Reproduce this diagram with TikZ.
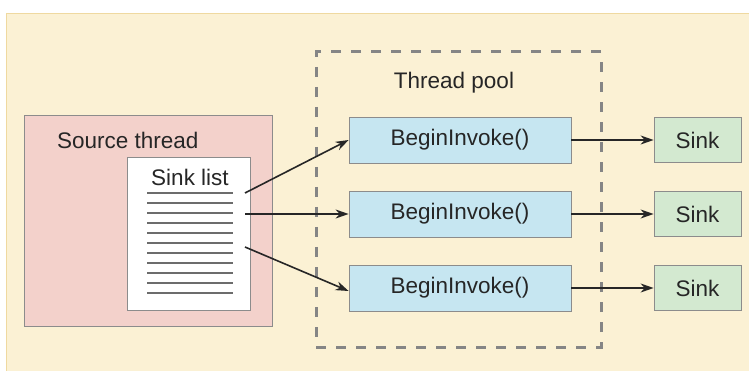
\documentclass[tikz,border=0pt]{standalone}
\usepackage{fontspec}
\setmainfont{Liberation Sans}
\usetikzlibrary{arrows.meta}
\definecolor{cream}{HTML}{FBF1D4}
\definecolor{creamedge}{HTML}{EFD9A0}
\definecolor{pinkbox}{HTML}{F3D1CB}
\definecolor{bluebox}{HTML}{C6E6F1}
\definecolor{greenbox}{HTML}{D3E9D0}
\definecolor{edgegray}{HTML}{8C8C8C}
\definecolor{dashgray}{HTML}{858585}
\definecolor{ink}{HTML}{262626}
\tikzset{
  lbl/.style={font=\fontsize{22.5}{25}\selectfont, text=ink, inner sep=0pt},
  boxb/.style={draw=edgegray, line width=0.8pt, rectangle, inner sep=0pt},
  invoke/.style={boxb, fill=bluebox, minimum width=222pt, minimum height=46pt, lbl},
  sinkbox/.style={boxb, fill=greenbox, minimum width=87pt, minimum height=45pt, lbl},
  arr/.style={draw=ink, line width=1.6pt, -{Stealth[length=13pt,width=9pt]}},
  listline/.style={draw=gray!85!black, line width=1.2pt}
}
\begin{document}
\begin{tikzpicture}[x=1pt,y=-1pt]
\useasboundingbox (0,0) rectangle (749,371);
\fill[white] (0,0) rectangle (749,371);
\fill[cream] (6,14) rectangle (749,371);
\draw[creamedge, line width=1pt] (6,371) -- (6,14) -- (749,14);
% source thread
\node[boxb, fill=pinkbox, minimum width=248pt, minimum height=211pt] (src) at (148,220.5) {};
\node[lbl, anchor=west] (srclbl) at (57,140) {Source thread};
\node[boxb, fill=white, minimum width=123pt, minimum height=153pt] (list) at (188.5,233.5) {};
\node[lbl] (listlbl) at (190,177) {Sink list};
\foreach \i in {0,...,10} {
  \draw[listline] (147,193+10*\i) -- (233,193+10*\i);
}
% thread pool
\node[draw=dashgray, line width=3pt, dash pattern=on 10pt off 10pt, minimum width=285pt, minimum height=295pt, inner sep=0pt] (pool) at (458.5,199.5) {};
\node[lbl] (poollbl) at (454,83) {Thread pool};
\node[invoke] (bi1) at (460,140) {BeginInvoke()};
\node[invoke] (bi2) at (460,214) {BeginInvoke()};
\node[invoke] (bi3) at (460,288) {BeginInvoke()};
\node[sinkbox] (s1) at (697.5,140) {Sink};
\node[sinkbox] (s2) at (697.5,214) {Sink};
\node[sinkbox] (s3) at (697.5,288) {Sink};
\coordinate (o1) at (245,193);
\coordinate (o2) at (245,214);
\coordinate (o3) at (245,247);
\draw[arr] (o1) -- (bi1.west);
\draw[arr] (o2) -- (bi2.west);
\draw[arr] (o3) -- ([yshift=-3pt]bi3.west);
\draw[arr] (bi1.east) -- (s1.west);
\draw[arr] (bi2.east) -- (s2.west);
\draw[arr] (bi3.east) -- (s3.west);
\end{tikzpicture}
\end{document}
